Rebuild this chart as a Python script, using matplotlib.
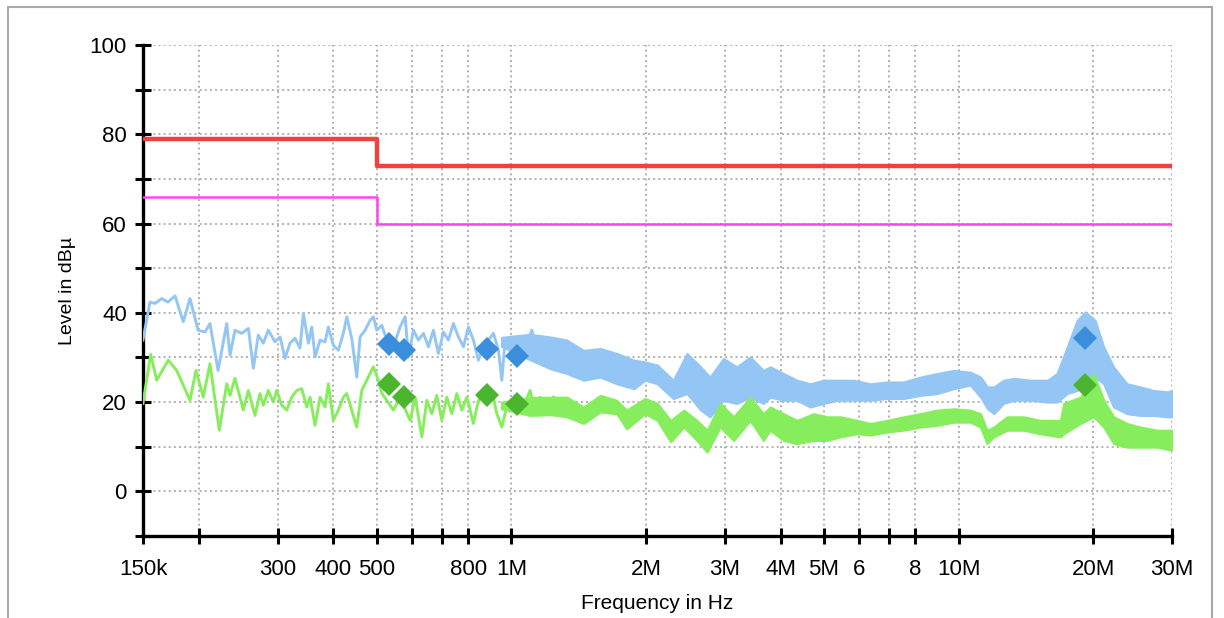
import numpy as np
import matplotlib.pyplot as plt
from matplotlib.ticker import FixedLocator, NullFormatter
import matplotlib.patches as patches

plt.rcParams['font.family'] = ['Liberation Sans', 'DejaVu Sans']

# --- data (frequency in Hz, level in dBuV) ---
# limit lines
qp_limit_freq = [150e3, 500e3, 500e3, 30e6]
qp_limit_level = [79, 79, 73, 73]
av_limit_freq = [150e3, 500e3, 500e3, 30e6]
av_limit_level = [66, 66, 60, 60]

# peak trace, sparse part (kHz)
blue_line_khz = [150, 155.5, 159.6, 165.2, 170.6, 176.9, 184.6, 191.1, 199.2, 206.5,
                 211.8, 220.8, 230.9, 234.8, 240.9, 249.4, 258.1, 264.8, 271.6, 278.7,
                 286.0, 296.0, 303.8, 311.7, 319.8, 328.2, 336.7, 342.6, 351.5, 357.7,
                 363.9, 373.3, 383.1, 389.6, 399.8, 410.2, 420.9, 428.4, 439.6, 451.0,
                 458.8, 470.7, 483.0, 491.3, 500.0, 513.0, 526.4, 544.6, 563.7, 578.6,
                 588.5, 603.8, 619.5, 635.7, 652.3, 669.3, 686.6, 704.6, 723.0, 741.9,
                 761.3, 781.1, 801.3, 822.3, 843.8, 865.8, 911.6, 935.3, 951.8, 968.1,
                 1010, 1055, 1083, 1111, 1140, 1170, 1200, 1232]
blue_line_db = [33.9, 42.4, 42.1, 43.2, 42.4, 43.8, 38.0, 43.2, 36.1, 35.7,
                37.6, 27.1, 37.6, 30.5, 36.1, 35.4, 36.5, 27.6, 35.0, 33.2,
                36.1, 33.5, 34.6, 29.8, 33.2, 34.3, 32.1, 39.9, 33.2, 36.8,
                30.1, 33.9, 33.5, 36.8, 32.7, 31.6, 35.4, 39.1, 34.2, 25.6,
                34.6, 36.1, 38.3, 39.1, 36.1, 37.2, 33.9, 32.4, 36.8, 39.1,
                30.1, 36.1, 33.9, 35.4, 32.4, 36.1, 30.9, 35.7, 33.9, 37.6,
                34.6, 32.4, 36.8, 33.9, 29.4, 32.4, 35.4, 31.6, 24.9, 33.9,
                30.1, 34.6, 33.1, 36.1, 30.9, 34.6, 32.4, 33.9]

# average trace, sparse part (kHz)
green_line_khz = [150, 156.1, 161.0, 170.9, 178.4, 191.1, 197.1, 204.6, 211.8, 222.2,
                  230.9, 234.8, 240.9, 251.5, 258.1, 267.1, 274.0, 278.7, 286.0, 293.5,
                  298.7, 306.4, 314.4, 322.6, 331.1, 339.7, 348.6, 354.6, 363.9, 373.3,
                  383.1, 389.6, 399.8, 410.2, 420.9, 428.4, 451.0, 462.8, 474.9, 491.3,
                  504.1, 513.0, 544.6, 563.7, 593.6, 609.1, 630.5, 646.9, 663.8, 680.9,
                  698.7, 717.0, 735.8, 755.0, 774.7, 794.9, 822.3, 843.8, 904.1, 927.7,
                  951.8, 976.6, 1064, 1101, 1130, 1160, 1200, 1242]
green_line_db = [19.7, 30.7, 24.9, 29.4, 27.1, 20.4, 27.1, 21.1, 28.6, 13.7,
                 24.1, 21.5, 25.3, 18.2, 22.6, 17.0, 21.9, 19.3, 22.6, 20.0,
                 22.6, 19.3, 18.2, 21.1, 22.6, 23.0, 18.9, 21.1, 14.8, 21.1,
                 18.9, 24.1, 15.9, 18.2, 21.1, 21.9, 14.4, 22.6, 24.9, 27.9,
                 24.9, 22.0, 18.2, 21.0, 15.9, 21.1, 12.2, 20.4, 17.4, 21.5,
                 15.9, 21.1, 17.4, 21.9, 18.2, 21.1, 15.2, 20.4, 22.6, 17.4,
                 14.4, 18.9, 18.9, 22.6, 17.4, 21.1, 19.7, 21.1]

# dense part, drawn as a band (MHz, upper / lower)
blue_band_mhz = [0.95, 1.10, 1.22, 1.33, 1.45, 1.58, 1.72, 1.88,
                 1.99, 2.12, 2.30, 2.47, 2.65, 2.78, 2.98, 3.19, 3.42, 3.66,
                 3.79, 4.06, 4.35, 4.66, 4.99, 5.35, 5.82, 6.35, 6.92, 7.53,
                 8.21, 8.95, 9.75, 10.62, 11.2, 11.6, 12.0, 12.6, 13.3, 14.5,
                 15.8, 16.6, 17.5, 18.4, 19.2, 20.2, 21.1, 22.2, 23.8, 25.5,
                 27.3, 29.3, 30.0]
blue_band_hi = [34.5, 35.2, 34.6, 33.9, 31.6, 32.0, 30.9, 29.4,
                29.0, 28.3, 24.9, 30.9, 27.9, 25.6, 29.8, 27.9, 30.1, 27.1,
                27.9, 26.4, 24.9, 24.1, 24.9, 24.9, 24.9, 24.1, 24.5, 24.5,
                25.6, 26.4, 27.1, 26.7, 25.6, 23.4, 23.4, 24.9, 25.3, 24.9,
                24.9, 26.4, 32.4, 38.3, 40.2, 38.3, 32.4, 27.9, 24.1, 23.4,
                22.6, 22.3, 22.6]
blue_band_lo = [32.5, 29.5, 27.5, 26.4, 24.9, 25.6, 24.1, 23.0,
                24.9, 24.1, 20.8, 21.9, 18.2, 16.7, 20.4, 19.7, 21.1, 19.7,
                21.1, 20.4, 20.4, 18.9, 19.7, 20.4, 20.4, 20.4, 20.8, 20.8,
                21.5, 21.9, 23.0, 23.8, 21.1, 18.5, 17.4, 19.7, 20.4, 20.4,
                20.0, 20.0, 21.9, 22.6, 23.5, 25.6, 24.1, 18.9, 17.4, 17.0,
                17.0, 16.7, 16.7]

green_band_mhz = [0.95, 1.10, 1.22, 1.33, 1.45, 1.58, 1.72, 1.81,
                  1.99, 2.12, 2.27, 2.43, 2.60, 2.74, 2.93, 3.14, 3.42, 3.66,
                  3.79, 4.06, 4.35, 4.74, 5.08, 5.44, 5.93, 6.35, 6.92, 7.53,
                  8.21, 8.95, 9.75, 10.62, 11.19, 11.58, 11.98, 12.84, 13.98, 15.23,
                  16.89, 17.18, 18.72, 20.05, 21.11, 22.23, 23.81, 25.50, 27.79, 30.0]
green_band_hi = [20.0, 21.0, 21.1, 21.1, 18.9, 21.5, 20.4, 18.2,
                 20.8, 19.7, 15.9, 18.2, 15.9, 13.7, 19.7, 16.7, 21.1, 17.4,
                 18.9, 17.4, 15.9, 17.4, 16.7, 16.7, 15.9, 15.2, 15.9, 16.7,
                 17.4, 18.2, 18.5, 18.2, 17.4, 13.7, 14.4, 16.7, 16.7, 15.9,
                 15.9, 19.7, 21.1, 26.4, 20.4, 16.7, 15.2, 14.4, 13.7, 13.7]
green_band_lo = [18.5, 17.0, 17.2, 16.7, 15.2, 17.8, 17.4, 14.0,
                 17.4, 15.9, 11.1, 14.4, 11.4, 8.8, 14.4, 11.4, 15.9, 11.4,
                 13.7, 11.4, 10.7, 11.4, 11.4, 12.2, 12.9, 12.6, 13.3, 13.7,
                 14.4, 14.8, 15.5, 15.5, 14.4, 10.7, 12.2, 13.7, 13.7, 12.9,
                 12.2, 12.9, 15.2, 16.7, 14.4, 10.7, 9.9, 9.9, 9.9, 9.2]

# final measurement points
pk_freq_khz = [532, 576, 883, 1030, 19200]
pk_level = [33.0, 31.6, 31.8, 30.3, 34.3]
av_freq_khz = [532, 576, 883, 1030, 19200]
av_level = [24.0, 21.1, 21.5, 19.5, 23.8]

# axis ticks
x_ticks = [150e3, 200e3, 300e3, 400e3, 500e3, 600e3, 700e3, 800e3, 1e6,
           2e6, 3e6, 4e6, 5e6, 6e6, 7e6, 8e6, 10e6, 20e6, 30e6]
x_tick_labels = ['150k', '', '300', '400', '500', '', '', '800', '1M',
                 '2M', '3M', '4M', '5M', '6', '', '8', '10M', '20M', '30M']
y_ticks = list(range(-10, 101, 10))
y_tick_labels = ['' if v % 20 else str(v) for v in y_ticks]
y_tick_labels[0] = ''

# --- plot ---
fig = plt.figure(figsize=(12.24, 6.18), dpi=100)
ax = fig.add_axes([0.1168, 0.1327, 0.8407, 0.7945])

blue = '#93c6f4'
green = '#86ee5c'

ax.fill_between(np.array(blue_band_mhz) * 1e6, blue_band_lo, blue_band_hi,
                color=blue, lw=1.5, edgecolor=blue, zorder=3)
ax.plot(np.array(blue_line_khz) * 1e3, blue_line_db, color=blue, lw=2.1, zorder=3)
ax.fill_between(np.array(green_band_mhz) * 1e6, green_band_lo, green_band_hi,
                color=green, lw=1.5, edgecolor=green, zorder=4)
ax.plot(np.array(green_line_khz) * 1e3, green_line_db, color=green, lw=2.1, zorder=4)

ax.plot(qp_limit_freq, qp_limit_level, color='#f2403f', lw=3.2, zorder=5)
ax.plot(av_limit_freq, av_limit_level, color='#ff44ee', lw=1.8, zorder=5)

ax.plot(np.array(pk_freq_khz) * 1e3, pk_level, 'D', color='#3a8edb',
        markersize=12, markeredgewidth=0, zorder=6)
ax.plot(np.array(av_freq_khz) * 1e3, av_level, 'D', color='#4cb52f',
        markersize=12, markeredgewidth=0, zorder=6)

ax.set_xscale('log')
ax.set_xlim(150e3, 30e6)
ax.set_ylim(-10, 100)
ax.xaxis.set_major_locator(FixedLocator(x_ticks))
ax.xaxis.set_minor_locator(FixedLocator([]))
ax.xaxis.set_minor_formatter(NullFormatter())
ax.set_xticklabels(x_tick_labels)
ax.set_yticks(y_ticks)
ax.set_yticklabels(y_tick_labels)

ax.grid(True, which='major', color='#b0b0b0', linestyle=':', linewidth=1.4, zorder=0)
ax.set_axisbelow(True)

for side in ['top', 'right']:
    ax.spines[side].set_visible(False)
for side in ['left', 'bottom']:
    ax.spines[side].set_linewidth(2.4)
ax.tick_params(direction='inout', length=11, width=2.2, labelsize=16)
ax.tick_params(axis='x', pad=11)
ax.tick_params(axis='y', pad=6)

ax.set_xlabel('Frequency in Hz', fontsize=15, labelpad=10)
ax.set_ylabel('Level in dBµ', fontsize=14, labelpad=10)

# thin gray frame round the whole chart
fig.patches.append(patches.Rectangle((0.0065, -0.02), 0.9835, 1.009, transform=fig.transFigure,
                                     fill=False, edgecolor='#a8a8a8', lw=1.5))

plt.savefig('out.png', dpi=100, facecolor='white')
plt.close()
